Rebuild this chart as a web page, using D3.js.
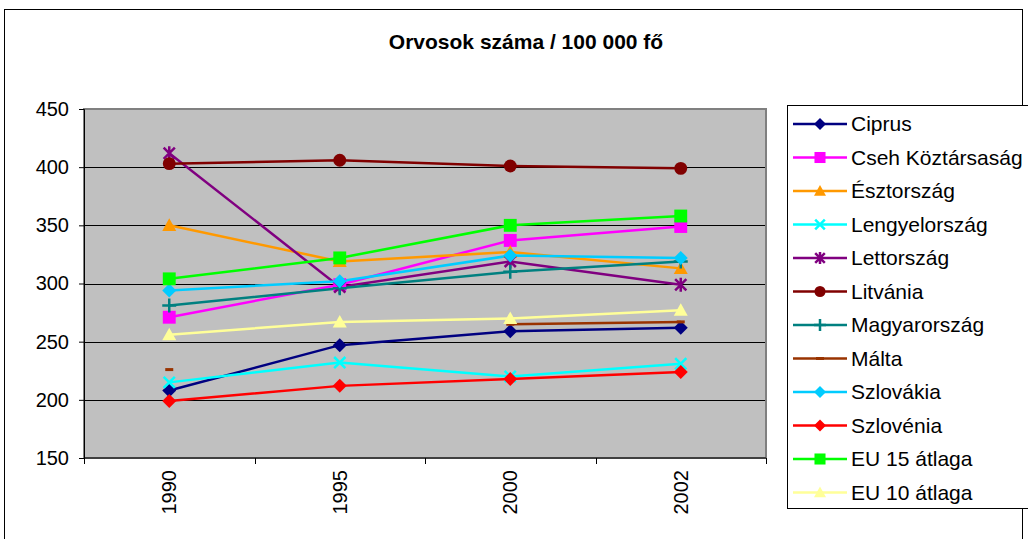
<!DOCTYPE html>
<html>
<head>
<meta charset="utf-8">
<script src="https://cdn.jsdelivr.net/npm/d3@7"></script>
<style>
  body { margin: 0; background: #fff; }
  svg { display: block; }
  svg text { font-family: "Liberation Sans", Arial, sans-serif; }
</style>
</head>
<body>
<svg id="chart" width="1028" height="539"></svg>
<script>
const years = ['1990', '1995', '2000', '2002'];
const yTicks = [150, 200, 250, 300, 350, 400, 450];

const names = ['Ciprus', 'Cseh Köztársaság', 'Észtország', 'Lengyelország', 'Lettország', 'Litvánia',
  'Magyarország', 'Málta', 'Szlovákia', 'Szlovénia', 'EU 15 átlaga', 'EU 10 átlaga'];

const ciprus = [208, 247, 259, 262];
const cseh = [271, 299, 337, 349];
const esztorszag = [350, 319, 327, 313];
const lengyel = [215, 232, 220, 231];
const lettorszag = [412, 297, 319, 299];
const litvania = [403, 406, 401, 399];
const magyar = [281, 296, 310, 319];
const malta = [226, null, 265, 267];
const szlovakia = [294, 302, 324, 322];
const szlovenia = [199, 212, 218, 224];
const eu15 = [304, 322, 350, 358];
const eu10 = [256, 267, 270, 277];

const values = [ciprus, cseh, esztorszag, lengyel, lettorszag, litvania,
  magyar, malta, szlovakia, szlovenia, eu15, eu10];
const colors = ['#000080', '#ff00ff', '#ff9900', '#00ffff', '#800080', '#800000',
  '#008080', '#993300', '#00ccff', '#ff0000', '#00ff00', '#ffff99'];
const markers = ['diamond', 'square', 'triangle', 'x', 'star', 'circle',
  'plus', 'dash', 'diamond', 'diamond', 'square', 'triangle'];

const svg = d3.select('#chart');

// outer chart border
svg.append('rect').attr('x', 4.5).attr('y', 9.5).attr('width', 1018).attr('height', 540)
  .attr('fill', 'none').attr('stroke', '#000').attr('stroke-width', 1);

svg.append('text').attr('x', 526).attr('y', 49).attr('text-anchor', 'middle')
  .attr('font-size', 21).attr('font-weight', 'bold').text('Orvosok száma / 100 000 fő');

const plotL = 84, plotR = 766, plotT = 109, plotB = 458;

const x = d3.scaleBand().domain(years).range([plotL, plotR]);
const y = d3.scaleLinear().domain([150, 450]).range([plotB, plotT]);

svg.append('rect').attr('x', plotL).attr('y', plotT).attr('width', plotR - plotL).attr('height', plotB - plotT)
  .attr('fill', '#c0c0c0');

svg.append('g').selectAll('line').data(yTicks.filter(d => d > 150 && d < 450)).join('line')
  .attr('x1', plotL).attr('x2', plotR)
  .attr('y1', d => Math.round(y(d)) + 0.5).attr('y2', d => Math.round(y(d)) + 0.5)
  .attr('stroke', '#000').attr('stroke-width', 1);

svg.append('rect').attr('x', plotL).attr('y', plotT).attr('width', plotR - plotL).attr('height', plotB - plotT)
  .attr('fill', 'none').attr('stroke', '#808080').attr('stroke-width', 2);

// y axis
const yAxis = svg.append('g').attr('transform', `translate(${plotL},0)`)
  .call(d3.axisLeft(y).tickValues(yTicks).tickSize(5).tickPadding(10));
yAxis.select('.domain').attr('stroke', '#000');
yAxis.selectAll('text').attr('font-size', 20).attr('fill', '#000')
  .attr('font-family', '"Liberation Sans", Arial, sans-serif');

// x axis: ticks at category boundaries
const xAxisG = svg.append('g');
xAxisG.append('line').attr('x1', plotL).attr('x2', plotR).attr('y1', plotB).attr('y2', plotB)
  .attr('stroke', '#000');
const bounds = years.map(d => x(d)).concat([plotR]);
xAxisG.selectAll('.tk').data(bounds).join('line').attr('class', 'tk')
  .attr('x1', d => Math.round(d) + 0.5).attr('x2', d => Math.round(d) + 0.5)
  .attr('y1', plotB).attr('y2', plotB + 6).attr('stroke', '#000');
xAxisG.selectAll('text').data(years).join('text')
  .attr('transform', d => `translate(${x(d) + x.bandwidth() / 2 + 7},${plotB + 12}) rotate(-90)`)
  .attr('text-anchor', 'end').attr('font-size', 20).text(d => d);

function drawMarker(g, type, color, size) {
  const s = size;
  if (type === 'diamond') {
    g.append('path').attr('d', `M0,${-s}L${s},0L0,${s}L${-s},0Z`).attr('fill', color);
  } else if (type === 'square') {
    g.append('rect').attr('x', -s * 0.92).attr('y', -s * 0.92).attr('width', s * 1.84).attr('height', s * 1.84).attr('fill', color);
  } else if (type === 'triangle') {
    g.append('path').attr('d', `M0,${-s}L${s},${s * 0.8}L${-s},${s * 0.8}Z`).attr('fill', color);
  } else if (type === 'circle') {
    g.append('circle').attr('r', s * 0.92).attr('fill', color);
  } else if (type === 'x') {
    const a = s * 0.8;
    g.append('path').attr('d', `M${-a},${-a}L${a},${a}M${-a},${a}L${a},${-a}`).attr('stroke', color).attr('stroke-width', 2.5);
  } else if (type === 'star') {
    const a = s * 0.8;
    g.append('path').attr('d', `M${-a},${-a}L${a},${a}M${-a},${a}L${a},${-a}M0,${-s}L0,${s}`).attr('stroke', color).attr('stroke-width', 2.5);
  } else if (type === 'plus') {
    g.append('path').attr('d', `M${-s},0L${s},0M0,${-s}L0,${s}`).attr('stroke', color).attr('stroke-width', 2.5);
  } else if (type === 'dash') {
    g.append('rect').attr('x', -4).attr('y', -1.5).attr('width', 8).attr('height', 3).attr('fill', color);
  }
}

const line = d3.line()
  .defined(d => d != null)
  .x((d, i) => x(years[i]) + x.bandwidth() / 2)
  .y(d => y(d));

const series = svg.append('g');
values.forEach((vals, k) => {
  series.append('path').datum(vals).attr('d', line)
    .attr('fill', 'none').attr('stroke', colors[k]).attr('stroke-width', 2.5);
});
values.forEach((vals, k) => {
  vals.forEach((v, i) => {
    if (v == null) return;
    const g = series.append('g').attr('transform', `translate(${x(years[i]) + x.bandwidth() / 2},${y(v)})`);
    drawMarker(g, markers[k], colors[k], 7);
  });
});

// legend
const legend = svg.append('g');
legend.append('rect').attr('x', 787.5).attr('y', 105.5).attr('width', 250).attr('height', 403)
  .attr('fill', '#fff').attr('stroke', '#000').attr('stroke-width', 1);
names.forEach((n, k) => {
  const ly = 124 + k * 33.5;
  legend.append('line').attr('x1', 793).attr('x2', 847).attr('y1', ly).attr('y2', ly)
    .attr('stroke', colors[k]).attr('stroke-width', 2.5);
  const g = legend.append('g').attr('transform', `translate(820,${ly})`);
  drawMarker(g, markers[k], colors[k], 6);
  legend.append('text').attr('x', 851).attr('y', ly + 7).attr('font-size', 21).text(n);
});
</script>
</body>
</html>
